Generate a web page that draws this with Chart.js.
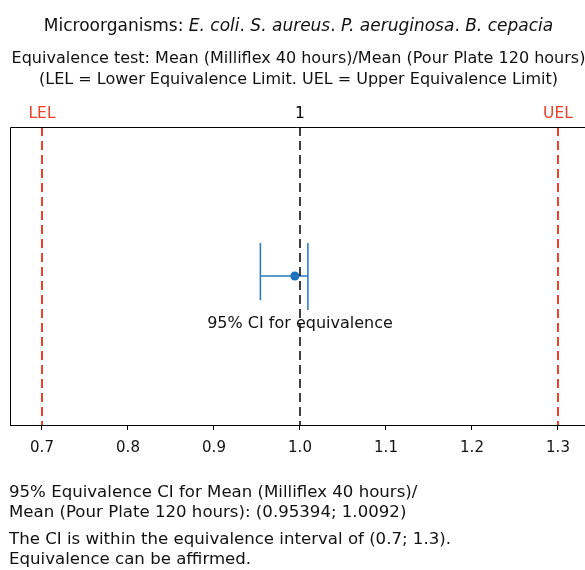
<!DOCTYPE html>
<html>
<head>
<meta charset="utf-8">
<script src="https://cdn.jsdelivr.net/npm/chart.js@4"></script>
<style>
  html, body { margin: 0; padding: 0; background: #fff; }
  body { width: 585px; height: 570px; position: relative; overflow: hidden;
         font-family: "DejaVu Sans", sans-serif; color: #111; }
  #wrap { position: absolute; left: 0; top: 0; width: 585px; height: 570px; }
  .title { position: absolute; left: 0; width: 597px; text-align: center; font-size: 16px; line-height: 21px; white-space: nowrap; }
  .note { position: absolute; left: 9px; font-size: 16.6px; line-height: 20px; white-space: nowrap; }
</style>
</head>
<body>
<div id="wrap"><canvas id="chart"></canvas></div>
<div class="title" style="top:15px;font-size:17px">Microorganisms: <i>E. coli</i>. <i>S. aureus</i>. <i>P. aeruginosa</i>. <i>B. cepacia</i></div>
<div class="title" style="top:47px">Equivalence test: Mean (Milliflex 40 hours)/Mean (Pour Plate 120 hours)<br>(LEL = Lower Equivalence Limit. UEL = Upper Equivalence Limit)</div>
<div class="note" style="top:482px">95% Equivalence CI for Mean (Milliflex 40 hours)/<br>Mean (Pour Plate 120 hours): (0.95394; 1.0092)</div>
<div class="note" style="top:529px">The CI is within the equivalence interval of (0.7; 1.3).<br>Equivalence can be affirmed.</div>
<script>
  // equivalence limits and target
  const refValues = [0.7, 1.0, 1.3];
  const refLabels = ["LEL", "1", "UEL"];
  const refColors = ["#f0402a", "#000000", "#f0402a"];
  const refWidths = [2, 1.5, 2];

  // confidence interval (ratio of means)
  const ciLow = 0.95394;
  const ciHigh = 1.0092;
  const ratioEstimate = 0.994;
  const ciY = 0.5;
  const capLowTop = [0.611, 0.419];
  const capHighTop = [0.611, 0.386];
  const ciLabel = "95% CI for equivalence";
  const ciLabelPos = [1.0, 0.34];

  const tickValues = [0.7, 0.8, 0.9, 1.0, 1.1, 1.2, 1.3];
  const tickLabels = ["0.7", "0.8", "0.9", "1.0", "1.1", "1.2", "1.3"];
  const xMin = 0.6628;
  const xMax = 1.3314;

  const blue = "#2478c2";

  const datasets = refValues.map(function (v, i) {
    return {
      data: [{ x: v, y: 1 }, { x: v, y: 0 }],
      showLine: true,
      borderColor: refColors[i],
      borderWidth: refWidths[i],
      borderDash: [9, 5],
      pointRadius: 0
    };
  });

  datasets.push({
    data: [{ x: ciLow, y: ciY }, { x: ciHigh, y: ciY }],
    showLine: true, borderColor: blue, borderWidth: 1.5, pointRadius: 0
  });
  datasets.push({
    data: [{ x: ciLow, y: capLowTop[0] }, { x: ciLow, y: capLowTop[1] }],
    showLine: true, borderColor: blue, borderWidth: 1.5, pointRadius: 0
  });
  datasets.push({
    data: [{ x: ciHigh, y: capHighTop[0] }, { x: ciHigh, y: capHighTop[1] }],
    showLine: true, borderColor: blue, borderWidth: 1.5, pointRadius: 0
  });
  datasets.push({
    data: [{ x: ratioEstimate, y: ciY }],
    showLine: false, pointRadius: 4.5, pointBackgroundColor: "#1b6fbe", pointBorderWidth: 0
  });

  const framePlugin = {
    id: "frame",
    afterDraw: function (chart) {
      const ctx = chart.ctx;
      const a = chart.chartArea;
      const xs = chart.scales.x;
      const ys = chart.scales.y;
      ctx.save();
      ctx.strokeStyle = "#000";
      ctx.lineWidth = 1;
      ctx.beginPath();
      ctx.moveTo(a.left + 0.5, a.bottom);
      ctx.lineTo(a.left + 0.5, a.top + 0.5);
      ctx.lineTo(a.right, a.top + 0.5);
      ctx.stroke();

      ctx.font = "15.5px 'DejaVu Sans'";
      ctx.textAlign = "center";
      ctx.textBaseline = "alphabetic";
      refValues.forEach(function (v, i) {
        ctx.fillStyle = refColors[i];
        ctx.fillText(refLabels[i], xs.getPixelForValue(v), a.top - 9);
      });

      ctx.font = "16px 'DejaVu Sans'";
      ctx.fillStyle = "#111";
      ctx.textBaseline = "middle";
      ctx.fillText(ciLabel, xs.getPixelForValue(ciLabelPos[0]), ys.getPixelForValue(ciLabelPos[1]));
      ctx.restore();
    }
  };

  new Chart(document.getElementById("chart").getContext("2d"), {
    type: "scatter",
    data: { datasets: datasets },
    options: {
      responsive: true,
      maintainAspectRatio: false,
      animation: false,
      layout: { autoPadding: false, padding: { left: 10, top: 127, right: 0, bottom: 115 } },
      plugins: { legend: { display: false }, tooltip: { enabled: false } },
      scales: {
        x: {
          type: "linear",
          min: xMin,
          max: xMax,
          afterBuildTicks: function (scale) {
            scale.ticks = tickValues.map(function (v) { return { value: v }; });
          },
          afterFit: function (scale) {
            scale.height = 30;
            scale.paddingLeft = 0;
            scale.paddingRight = 0;
          },
          ticks: {
            color: "#111",
            font: { family: "DejaVu Sans", size: 15 },
            padding: 9,
            maxRotation: 0,
            callback: function (value) {
              const i = tickValues.indexOf(value);
              return i >= 0 ? tickLabels[i] : "";
            }
          },
          grid: { drawOnChartArea: false, drawTicks: true, tickLength: 5, color: "#000", lineWidth: 1 },
          border: { display: true, color: "#000", width: 1 }
        },
        y: { display: false, min: 0, max: 1 }
      }
    },
    plugins: [framePlugin]
  });
</script>
</body>
</html>
